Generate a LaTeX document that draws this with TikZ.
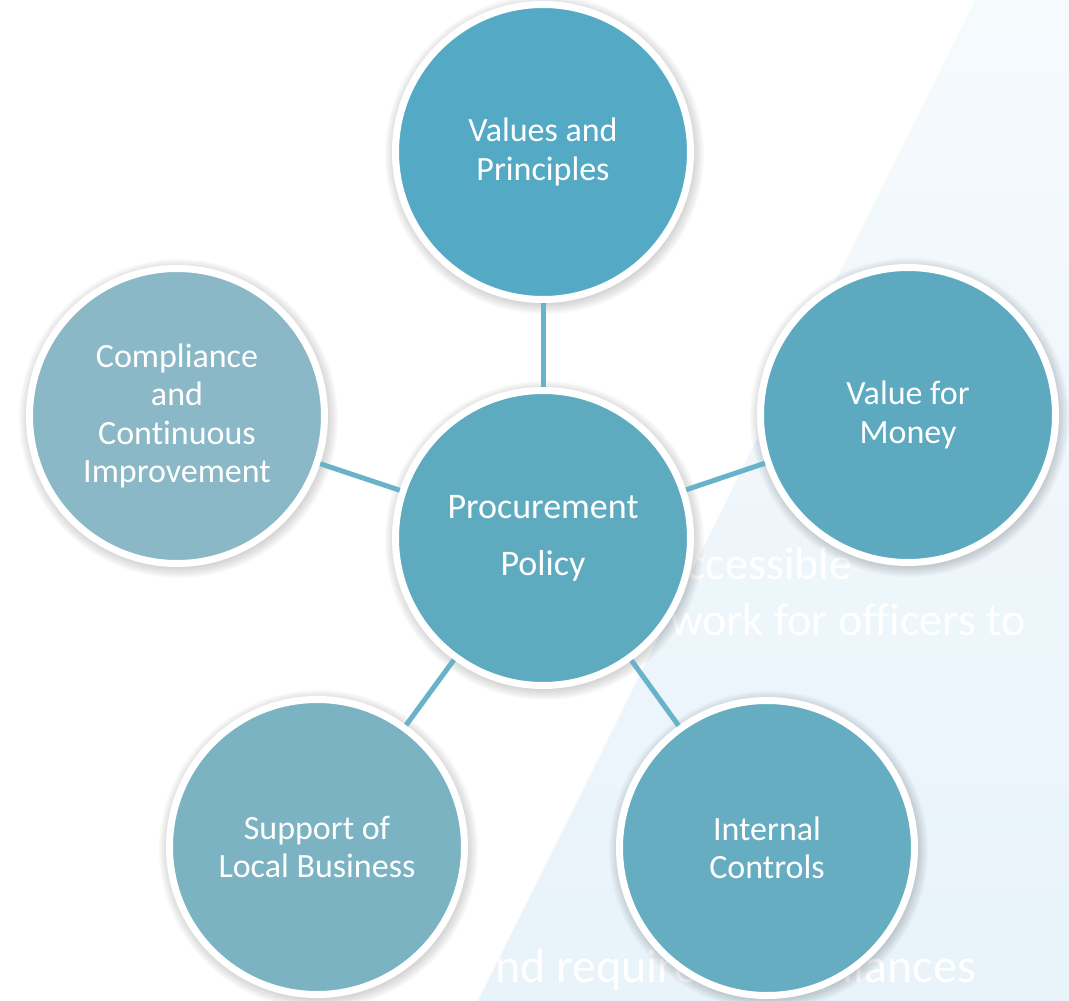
\documentclass[tikz,border=0pt]{standalone}
\usepackage{fontspec}
\setmainfont{Carlito}[Ligatures=NoCommon]
\definecolor{bgtop}{HTML}{F5FAFD}
\definecolor{bgbot}{HTML}{E8F3FA}
\definecolor{ctop}{HTML}{54AAC4}
\definecolor{cmid}{HTML}{5EABC0}
\definecolor{cright}{HTML}{5CA9C0}
\definecolor{cleft}{HTML}{8AB8C7}
\definecolor{cbl}{HTML}{7BB3C2}
\definecolor{cbr}{HTML}{66ADC2}
\definecolor{link}{HTML}{68B2CA}
\tikzset{
  bubble/.style={circle, minimum size=295pt, inner sep=0pt, draw=white, line width=7pt,
    text=white, align=center, font=\fontsize{34}{38.5}\selectfont},
  linkline/.style={draw=link, line width=5pt},
  ghost/.style={anchor=base west, inner sep=0pt, text=white, font=\fontsize{46}{50}\selectfont},
  softshadow/.style={fill=black, opacity=0.022}
}
\begin{document}
\begin{tikzpicture}[x=1pt,y=-1pt]
\useasboundingbox (0,0) rectangle (1069,1001);
\shade[top color=bgtop, bottom color=bgbot] (975,0) -- (1069,0) -- (1069,1001) -- (478,1001) -- cycle;
\node[ghost] (g1) at (686,579) {ccessible};
\node[ghost] (g2) at (670,635) {work for officers to};
\node[ghost, font=\fontsize{48}{52}\selectfont] (g3) at (495,982) {nd required compliances};
\coordinate (ptop) at (543,152);
\coordinate (pleft) at (177,416);
\coordinate (pright) at (908,415);
\coordinate (pbl) at (317,847);
\coordinate (pbr) at (767,848);
\coordinate (pmid) at (543,538);
\foreach \p in {ptop,pleft,pright,pbl,pbr,pmid}{
  \foreach \r in {149,150.5,152,153.5,155,156.5,158,159.5}{
    \fill[softshadow] ([xshift=1.5pt,yshift=-2.5pt]\p) circle (\r pt);
  }
}
\node[bubble, fill=ctop] (top) at (ptop) {Values and\\Principles};
\node[bubble, fill=cleft] (left) at (pleft) {Compliance\\and\\Continuous\\Improvement};
\node[bubble, fill=cright] (right) at (pright) {Value for\\Money};
\node[bubble, fill=cbl] (bl) at (pbl) {Support of\\Local Business};
\node[bubble, fill=cbr] (br) at (pbr) {Internal\\Controls};
\node[bubble, fill=cmid, font=\fontsize{36}{57}\selectfont] (mid) at (pmid) {Procurement\\Policy};
\draw[linkline] (top) -- (mid);
\draw[linkline] (left) -- (mid);
\draw[linkline] (right) -- (mid);
\draw[linkline] (bl) -- (mid);
\draw[linkline] (br) -- (mid);
\end{tikzpicture}
\end{document}
